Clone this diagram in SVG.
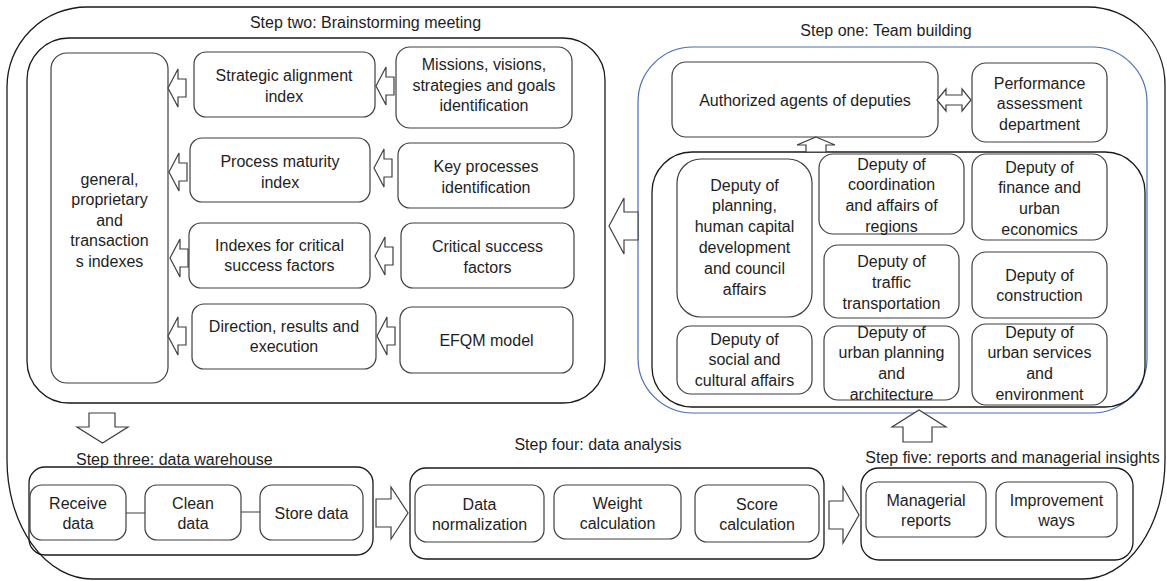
<svg xmlns="http://www.w3.org/2000/svg" width="1167" height="581" viewBox="0 0 1167 581">
<style>
.box{fill:#fff;stroke:#3f3f3f;stroke-width:1.2}
.cont{fill:none;stroke:#1a1a1a;stroke-width:1.3}
.blue{fill:none;stroke:#4a6fb5;stroke-width:1.2}
.arr{fill:#fff;stroke:#3f3f3f;stroke-width:1.2;stroke-linejoin:miter}
.ln{fill:none;stroke:#3f3f3f;stroke-width:1.2}
text{font-family:"Liberation Sans",Arial,sans-serif;font-size:16px;fill:#1e1e1e}
.c{text-anchor:middle}
</style>
<rect width="1167" height="581" fill="#fff"/>
<g id="outer">
<path class="cont" d="M87,7 H1088 A77,78 0 0 1 1165,85 V460 A82,119 0 0 1 1083,579 H92 A85,119 0 0 1 7,460 V87 A80,80 0 0 1 87,7 Z"/>
</g>
<g id="step-two">
<text class="c" x="365.5" y="28">Step two: Brainstorming meeting</text>
<rect class="cont" x="27" y="38" width="578" height="365" rx="42"/>
</g>
<g id="step-one">
<text class="c" x="886" y="36">Step one: Team building</text>
<rect class="blue" x="638" y="47" width="509" height="366" rx="55"/>
<rect class="cont" x="652" y="152" width="493" height="255" rx="40"/>
</g>
<g id="step-three">
<rect class="cont" x="29" y="467" width="344" height="88" rx="16"/>
<text x="76" y="465">Step three: data warehouse</text>
</g>
<g id="step-four">
<text class="c" x="598" y="450">Step four: data analysis</text>
<rect class="cont" x="410" y="468" width="414" height="91" rx="16"/>
</g>
<g id="step-five">
<text class="c" x="1012.5" y="463">Step five: reports and managerial insights</text>
<rect class="cont" x="861" y="468" width="272" height="92" rx="18"/>
</g>

<g id="n-general"><rect class="box" x="51" y="53" width="117" height="330" rx="16"/>
<text class="c"><tspan x="109.5" y="184.5">general,</tspan><tspan x="109.5" y="205">proprietary</tspan><tspan x="109.5" y="225.5">and</tspan><tspan x="109.5" y="246">transaction</tspan><tspan x="109.5" y="266.5">s indexes</tspan></text></g>
<g id="n-strategic"><rect class="box" x="194" y="52" width="181" height="65" rx="12"/>
<text class="c"><tspan x="284" y="81">Strategic alignment</tspan><tspan x="284" y="102">index</tspan></text></g>
<g id="n-missions"><rect class="box" x="396" y="47" width="176" height="81" rx="14"/>
<text class="c"><tspan x="484" y="70">Missions, visions,</tspan><tspan x="484" y="90.5">strategies and goals</tspan><tspan x="484" y="111">identification</tspan></text></g>
<g id="n-process"><rect class="box" x="190" y="138" width="180" height="64" rx="12"/>
<text class="c"><tspan x="280" y="167">Process maturity</tspan><tspan x="280" y="187.5">index</tspan></text></g>
<g id="n-key"><rect class="box" x="398" y="143" width="176" height="65" rx="12"/>
<text class="c"><tspan x="486" y="172">Key processes</tspan><tspan x="486" y="192.5">identification</tspan></text></g>
<g id="n-indexes"><rect class="box" x="189" y="223" width="181" height="65" rx="12"/>
<text class="c"><tspan x="279.5" y="250.5">Indexes for critical</tspan><tspan x="279.5" y="271">success factors</tspan></text></g>
<g id="n-critical"><rect class="box" x="401" y="223" width="173" height="65" rx="12"/>
<text class="c"><tspan x="487.5" y="252">Critical success</tspan><tspan x="487.5" y="272.5">factors</tspan></text></g>
<g id="n-direction"><rect class="box" x="192" y="304" width="184" height="65" rx="12"/>
<text class="c"><tspan x="284" y="331.5">Direction, results and</tspan><tspan x="284" y="352">execution</tspan></text></g>
<g id="n-efqm"><rect class="box" x="400" y="307" width="173" height="66" rx="12"/>
<text class="c" x="486.5" y="345.5">EFQM model</text></g>

<g id="n-authorized"><rect class="box" x="672" y="62" width="266" height="75" rx="14"/>
<text class="c" x="805" y="105.5">Authorized agents of deputies</text></g>
<g id="n-performance"><rect class="box" x="972" y="63" width="135" height="79" rx="14"/>
<text class="c"><tspan x="1039.5" y="88.5">Performance</tspan><tspan x="1039.5" y="109">assessment</tspan><tspan x="1039.5" y="129.5">department</tspan></text></g>
<g id="n-planning"><rect class="box" x="677" y="159" width="135" height="158" rx="24"/>
<text class="c"><tspan x="744.5" y="190.5">Deputy of</tspan><tspan x="744.5" y="211.3">planning,</tspan><tspan x="744.5" y="232.1">human capital</tspan><tspan x="744.5" y="252.9">development</tspan><tspan x="744.5" y="273.7">and council</tspan><tspan x="744.5" y="294.5">affairs</tspan></text></g>
<g id="n-coordination"><rect class="box" x="819" y="154" width="145" height="80" rx="14"/>
<text class="c"><tspan x="891.5" y="169.5">Deputy of</tspan><tspan x="891.5" y="190.3">coordination</tspan><tspan x="891.5" y="211.1">and affairs of</tspan><tspan x="891.5" y="231.9">regions</tspan></text></g>
<g id="n-finance"><rect class="box" x="972" y="154" width="135" height="86" rx="14"/>
<text class="c"><tspan x="1039.5" y="172.5">Deputy of</tspan><tspan x="1039.5" y="193.3">finance and</tspan><tspan x="1039.5" y="214.1">urban</tspan><tspan x="1039.5" y="234.9">economics</tspan></text></g>
<g id="n-traffic"><rect class="box" x="824" y="245" width="135" height="73" rx="14"/>
<text class="c"><tspan x="891.5" y="267">Deputy of</tspan><tspan x="891.5" y="287.8">traffic</tspan><tspan x="891.5" y="308.6">transportation</tspan></text></g>
<g id="n-construction"><rect class="box" x="972" y="252" width="135" height="66" rx="14"/>
<text class="c"><tspan x="1039.5" y="280.5">Deputy of</tspan><tspan x="1039.5" y="301.3">construction</tspan></text></g>
<g id="n-social"><rect class="box" x="677" y="326" width="135" height="68" rx="14"/>
<text class="c"><tspan x="744.5" y="344.5">Deputy of</tspan><tspan x="744.5" y="365.3">social and</tspan><tspan x="744.5" y="386.1">cultural affairs</tspan></text></g>
<g id="n-urbanplanning"><rect class="box" x="824" y="326" width="135" height="74" rx="14"/>
<text class="c"><tspan x="891.5" y="337.5">Deputy of</tspan><tspan x="891.5" y="358.3">urban planning</tspan><tspan x="891.5" y="379.1">and</tspan><tspan x="891.5" y="399.9">architecture</tspan></text></g>
<g id="n-urbanservices"><rect class="box" x="972" y="324" width="135" height="81" rx="14"/>
<text class="c"><tspan x="1039.5" y="337.5">Deputy of</tspan><tspan x="1039.5" y="358.3">urban services</tspan><tspan x="1039.5" y="379.1">and</tspan><tspan x="1039.5" y="399.9">environment</tspan></text></g>

<g id="n-receive"><rect class="box" x="30" y="485" width="96" height="55" rx="12"/>
<text class="c"><tspan x="78" y="508.5">Receive</tspan><tspan x="78" y="529.3">data</tspan></text></g>
<g id="n-clean"><rect class="box" x="145" y="485" width="96" height="55" rx="12"/>
<text class="c"><tspan x="193" y="508.5">Clean</tspan><tspan x="193" y="529.3">data</tspan></text></g>
<g id="n-store"><rect class="box" x="260" y="485" width="103" height="55" rx="12"/>
<text class="c" x="311.5" y="518.5">Store data</text></g>
<g id="n-normalization"><rect class="box" x="415" y="485" width="129" height="57" rx="12"/>
<text class="c"><tspan x="479.5" y="509.5">Data</tspan><tspan x="479.5" y="530.3">normalization</tspan></text></g>
<g id="n-weight"><rect class="box" x="554" y="485" width="127" height="54" rx="12"/>
<text class="c"><tspan x="617.5" y="508.5">Weight</tspan><tspan x="617.5" y="529.3">calculation</tspan></text></g>
<g id="n-score"><rect class="box" x="695" y="485" width="124" height="57" rx="12"/>
<text class="c"><tspan x="757" y="509.5">Score</tspan><tspan x="757" y="530.3">calculation</tspan></text></g>
<g id="n-managerial"><rect class="box" x="866" y="482" width="120" height="55" rx="12"/>
<text class="c"><tspan x="926" y="505.5">Managerial</tspan><tspan x="926" y="526.3">reports</tspan></text></g>
<g id="n-improvement"><rect class="box" x="996" y="482" width="121" height="55" rx="12"/>
<text class="c"><tspan x="1056.5" y="505.5">Improvement</tspan><tspan x="1056.5" y="526.3">ways</tspan></text></g>

<g id="connectors">
<path class="arr" d="M168,88 L178,69 L178,79 L186,79 L186,97 L178,97 L178,107 Z"/>
<path class="arr" d="M376,86 L386,67 L386,77 L394,77 L394,95 L386,95 L386,105 Z"/>
<path class="arr" d="M169,172 L179,153 L179,163 L187,163 L187,181 L179,181 L179,191 Z"/>
<path class="arr" d="M374,168 L384,149 L384,159 L392,159 L392,177 L384,177 L384,187 Z"/>
<path class="arr" d="M170,258 L180,239 L180,249 L188,249 L188,267 L180,267 L180,277 Z"/>
<path class="arr" d="M375,256 L385,237 L385,247 L393,247 L393,265 L385,265 L385,275 Z"/>
<path class="arr" d="M168,336 L178,317 L178,327 L186,327 L186,345 L178,345 L178,355 Z"/>
<path class="arr" d="M377,336 L387,317 L387,327 L395,327 L395,345 L387,345 L387,355 Z"/>
<path class="arr" d="M609,226 L624,198 L624,212 L638,212 L638,240 L624,240 L624,254 Z"/>
<path class="arr" d="M937,100 L946,89 L946,95 L962,95 L962,89 L971,100 L962,111 L962,105 L946,105 L946,111 Z"/>
<path class="arr" d="M816,137 L835,145 L826,145 L826,152 L806,152 L806,145 L797,145 Z"/>
<path class="arr" d="M89,413 L115,413 L115,427 L128,427 L102.5,443 L77,427 L89,427 Z"/>
<path class="arr" d="M376,499 L391,499 L391,487 L408,513 L391,539 L391,527 L376,527 Z"/>
<path class="arr" d="M829,501 L843,501 L843,487 L859,515 L843,543 L843,529 L829,529 Z"/>
<path class="arr" d="M919,410 L946,427 L932,427 L932,442 L903,442 L903,427 L892,427 Z"/>
<path class="ln" d="M126,513 H145 M241,512 H260"/>
</g>
</svg>
